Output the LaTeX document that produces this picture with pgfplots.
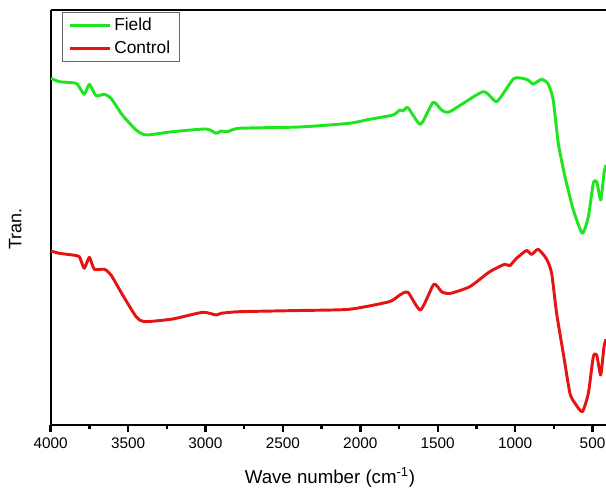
\documentclass[border=0pt]{standalone}
\usepackage{pgfplots}
\pgfplotsset{compat=1.18}
\usepackage{fontspec}
\setmainfont{Liberation Sans}
\definecolor{fgreen}{RGB}{30,230,30}
\definecolor{fred}{RGB}{228,20,20}
\begin{document}
\begin{tikzpicture}
\begin{axis}[
  scale only axis,
  width=416.5pt, height=311.25pt,
  x dir=reverse,
  xmin=413, xmax=4000,
  ymin=-425, ymax=-10,
  axis x line*=box, axis y line*=left,
  axis line style={line width=1.6pt, black},
  xtick={4000,3500,3000,2500,2000,1500,1000,500},
  minor x tick num=1,
  xtick pos=bottom,
  tick align=outside,
  major tick length=5pt, minor tick length=3pt,
  every tick/.style={black, line width=1.8pt},
  ytick=\empty,
  /pgf/number format/assume math mode=true,
  /pgf/number format/1000 sep={},
  x tick label style={font=\fontsize{11.5}{13}\selectfont, yshift=-1pt},
  xlabel={Wave number (cm\textsuperscript{-1})},
  ylabel={Tran.},
  every axis x label/.style={at={(axis description cs:0.503,0)}, anchor=center, yshift=-39pt, font=\fontsize{14}{16}\selectfont},
  every axis y label/.style={at={(axis description cs:0,0.472)}, xshift=-26.5pt, rotate=90, anchor=center, font=\fontsize{13.5}{15}\selectfont},
  legend style={at={(axis description cs:0.02,0.995)}, anchor=north west, draw=gray!80!black, line width=0.6pt, font=\fontsize{13}{15}\selectfont, inner xsep=5pt, inner ysep=2pt, row sep=2.5pt},
  legend cell align=left,
  legend image post style={line width=2.2pt},
  legend image code/.code={\draw[#1] (0cm,0cm) -- (1.05cm,0cm);},
]
\coordinate (bl) at (axis description cs:0,0);
\coordinate (tr) at (axis description cs:1,1);
\addplot[fgreen, line width=2.2pt, smooth, tension=0.35, line join=round] coordinates {
(3998,-78.3) (3944,-81.7) (3860,-82.7) (3828,-84) (3783,-94.3) (3750,-84.3) (3707,-95.7) (3653,-94.3) (3610,-98.3) (3537,-115) (3448,-130) (3383,-135) (3213,-131.7) (2996,-129) (2931,-133.3) (2899,-131) (2858,-131.7) (2781,-128.3) (2392,-127) (2072,-123.3) (1940,-119.3) (1789,-115) (1745,-110) (1724,-111) (1692,-107.7) (1611,-124.3) (1530,-102.3) (1475,-110) (1422,-111.7) (1207,-91.7) (1118,-101.5) (1008,-78.5) (924,-79.5) (883,-84) (829,-79.3) (786,-84) (754,-100) (721,-143.3) (678,-176.7) (624,-210) (566,-233.3) (527,-216.7) (495,-183.3) (473,-181.7) (447,-200) (426,-173.3) (413,-165)
};
\addlegendentry{Field}
\addplot[fred, line width=2.2pt, smooth, tension=0.35, line join=round] coordinates {
(3998,-251) (3944,-253.3) (3858,-255) (3815,-256.7) (3783,-268.3) (3750,-257.3) (3718,-269.3) (3653,-269.3) (3610,-275) (3535,-295) (3448,-316.7) (3395,-321.7) (3212,-319) (3018,-312.3) (2931,-315) (2899,-313.3) (2780,-311.7) (2392,-310.5) (2072,-309.3) (1813,-301.7) (1745,-295) (1692,-292.3) (1611,-310) (1525,-284.3) (1475,-291.7) (1422,-293.5) (1293,-286.7) (1164,-271.7) (1067,-264.3) (1035,-265.7) (991,-258.3) (926,-250.5) (894,-254.5) (851,-249.3) (797,-259) (764,-273.3) (732,-313.3) (689,-353.3) (646,-393.3) (613,-403.3) (566,-411.7) (527,-393.3) (495,-356.7) (473,-355) (447,-375) (426,-346.7) (413,-339.3)
};
\addlegendentry{Control}
\end{axis}
\pgfresetboundingbox
\path (bl) ++(-38pt,-48pt) coordinate (BB1);
\path (tr) ++(0pt,7.5pt) coordinate (BB2);
\path[use as bounding box] (BB1) rectangle (BB2);
\end{tikzpicture}
\end{document}
